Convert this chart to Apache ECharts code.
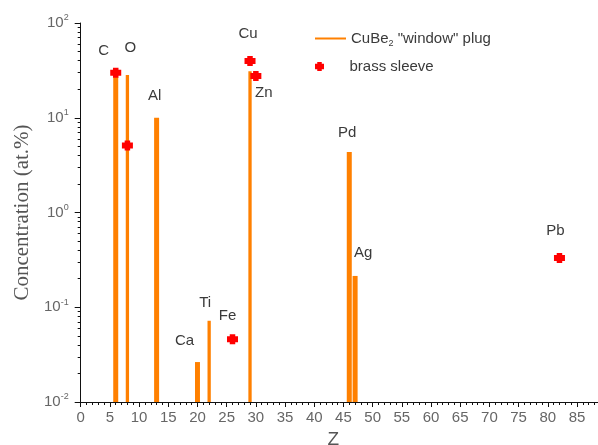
<!DOCTYPE html>
<html>
<head>
<meta charset="utf-8">
<script src="https://cdn.jsdelivr.net/npm/echarts@6/dist/echarts.min.js"></script>
<style>
  html, body { margin: 0; padding: 0; background: #fff; }
  #chart { width: 598px; height: 445px; }
</style>
</head>
<body>
<div id="chart"></div>
<script>
// CuBe2 "window" plug composition (bars)
const plugElements = ['C', 'O', 'Al', 'Ca', 'Ti', 'Cu', 'Pd', 'Ag'];
const plugZ = [6, 8, 13, 20, 22, 29, 46, 47];
const plugConc = [27, 28.3, 10, 0.0264, 0.072, 31, 4.35, 0.214];

// brass sleeve composition (markers)
const sleeveElements = ['C', 'O', 'Fe', 'Cu', 'Zn', 'Pb'];
const sleeveZ = [6, 8, 26, 29, 30, 82];
const sleeveConc = [29.9, 5.1, 0.046, 39.7, 27.6, 0.331];

// axis ticks
const yExponents = [-2, -1, 0, 1, 2];
const xTickStep = 5;

const PLUG_NAME = 'CuBe2 "window" plug';
const SLEEVE_NAME = 'brass sleeve';
const ORANGE = '#ff8000';
const RED = '#ff0000';
const FONT = '"Liberation Sans", Arial, sans-serif';
const Y_MIN = Math.pow(10, yExponents[0]);
const Y_MAX = Math.pow(10, yExponents[yExponents.length - 1]);

// bar widths (px) and label offsets (px) for each element name
const wideBars = new Set(['C', 'Al', 'Ca', 'Pd', 'Ag']);
const barLabelOffset = {
  O: [3, -27], Al: [-2, -22], Ca: [-13, -21], Ti: [-4, -18], Pd: [-2, -19], Ag: [8, -23]
};
const markerLabelOffset = {
  C: [-12, -22], Cu: [-2, -27], Zn: [8, 17], Fe: [-5, -23], Pb: [-4, -27]
};
const LABEL_COLOR = '#3a3a3a';

// minor ticks of the logarithmic scale, expressed as exponents
const minorExponents = [];
for (let e = yExponents[0]; e < yExponents[yExponents.length - 1]; e++) {
  for (let k = 2; k <= 9; k++) minorExponents.push(e + Math.log10(k));
}

const MARKER = 'path://M2.5,0 L7.5,0 L7.5,2 L10,2 L10,8 L7.5,8 L7.5,10 L2.5,10 L2.5,8 L0,8 L0,2 L2.5,2 Z';

const plugData = plugZ.map((z, i) => ({ name: plugElements[i], value: [z, plugConc[i]] }));
const sleeveData = sleeveZ.map((z, i) => {
  const el = sleeveElements[i];
  const off = markerLabelOffset[el];
  const item = { name: el, value: [z, sleeveConc[i]] };
  if (off) {
    item.label = { show: true, position: 'inside', offset: off, formatter: '{b}',
      color: LABEL_COLOR, fontSize: 15, fontFamily: FONT, align: 'center', verticalAlign: 'middle' };
  }
  return item;
});

function renderBar(params, api) {
  const name = plugElements[params.dataIndex];
  const top = api.coord([api.value(0), api.value(1)]);
  const base = api.coord([api.value(0), Y_MIN]);
  const w = wideBars.has(name) ? 5 : 3.3;
  const children = [{
    type: 'rect',
    shape: { x: top[0] - w / 2, y: top[1], width: w, height: base[1] - top[1] },
    style: { fill: ORANGE }
  }];
  const off = barLabelOffset[name];
  if (off) {
    children.push({
      type: 'text',
      x: top[0] + off[0], y: top[1] + off[1],
      style: { text: name, fill: LABEL_COLOR, font: '15px ' + FONT, align: 'center', verticalAlign: 'middle' }
    });
  }
  return { type: 'group', children };
}

const chart = echarts.init(document.getElementById('chart'));
chart.setOption({
  backgroundColor: '#fff',
  animation: false,
  grid: { left: 80.7, right: 0, top: 23, bottom: 43, outerBoundsMode: 'none', containLabel: false },
  legend: [
    {
      data: [{ name: PLUG_NAME, icon: 'rect' }],
      left: 310, top: 26, itemWidth: 31, itemHeight: 2,
      selectedMode: false,
      formatter: () => 'CuBe{sub|2} "window" plug',
      textStyle: { color: LABEL_COLOR, fontSize: 15, fontFamily: FONT,
        rich: { sub: { fontSize: 9, color: LABEL_COLOR, fontFamily: FONT, padding: [10, 0, 0, 0] } } }
    },
    {
      data: [{ name: SLEEVE_NAME, icon: MARKER }],
      left: 310, top: 54, itemWidth: 10, itemHeight: 9,
      selectedMode: false,
      itemStyle: { opacity: 1 },
      textStyle: { color: LABEL_COLOR, fontSize: 15, fontFamily: FONT, padding: [0, 0, 0, 20] }
    }
  ],
  xAxis: {
    type: 'value', min: 0, max: 88.6, interval: xTickStep,
    name: 'Z', nameLocation: 'middle', nameGap: 24,
    nameTextStyle: { color: '#555', fontSize: 19, fontFamily: FONT, padding: [0, 12, 0, 0] },
    splitLine: { show: false },
    axisLine: { onZero: false, lineStyle: { color: '#111', width: 1 } },
    axisTick: { length: 5, lineStyle: { color: '#111' } },
    minorTick: { show: true, splitNumber: 5, length: 3, lineStyle: { color: '#111' } },
    axisLabel: {
      color: '#666', fontSize: 15, fontFamily: FONT, margin: 8,
      formatter: v => (v % xTickStep === 0 ? String(v) : '')
    }
  },
  yAxis: [
    // data scale
    { type: 'log', min: Y_MIN, max: Y_MAX, logBase: 10, show: false },
    // decade ticks and labels
    {
      type: 'value', min: yExponents[0], max: yExponents[yExponents.length - 1], interval: 1,
      position: 'left',
      name: 'Concentration (at.%)', nameLocation: 'middle', nameGap: 45,
      nameTextStyle: { color: '#555', fontSize: 21, fontFamily: '"Liberation Serif", "Times New Roman", serif' },
      splitLine: { show: false },
      axisLine: { show: true, onZero: false, lineStyle: { color: '#111', width: 1 } },
      axisTick: { show: true, length: 6, lineStyle: { color: '#111' } },
      axisLabel: {
        margin: 12,
        formatter: v => '{b|10}{s|' + v + '}',
        rich: {
          b: { color: '#666', fontSize: 15, fontFamily: FONT },
          s: { color: '#666', fontSize: 9, fontFamily: FONT, padding: [0, 0, 10, 0] }
        }
      }
    },
    // minor log ticks
    {
      type: 'value', min: yExponents[0], max: yExponents[yExponents.length - 1],
      position: 'left',
      splitLine: { show: false },
      axisLine: { show: false, onZero: false },
      axisLabel: { show: false },
      axisTick: { show: true, length: 3, customValues: minorExponents, lineStyle: { color: '#111' } }
    }
  ],
  series: [
    {
      name: PLUG_NAME,
      type: 'custom',
      xAxisIndex: 0, yAxisIndex: 0,
      encode: { x: 0, y: 1 },
      itemStyle: { color: ORANGE },
      renderItem: renderBar,
      data: plugData,
      z: 2
    },
    {
      name: SLEEVE_NAME,
      type: 'scatter',
      xAxisIndex: 0, yAxisIndex: 0,
      symbol: MARKER,
      symbolSize: [11, 10],
      itemStyle: { color: RED, opacity: 1 },
      data: sleeveData,
      z: 3
    }
  ]
});
</script>
</body>
</html>
